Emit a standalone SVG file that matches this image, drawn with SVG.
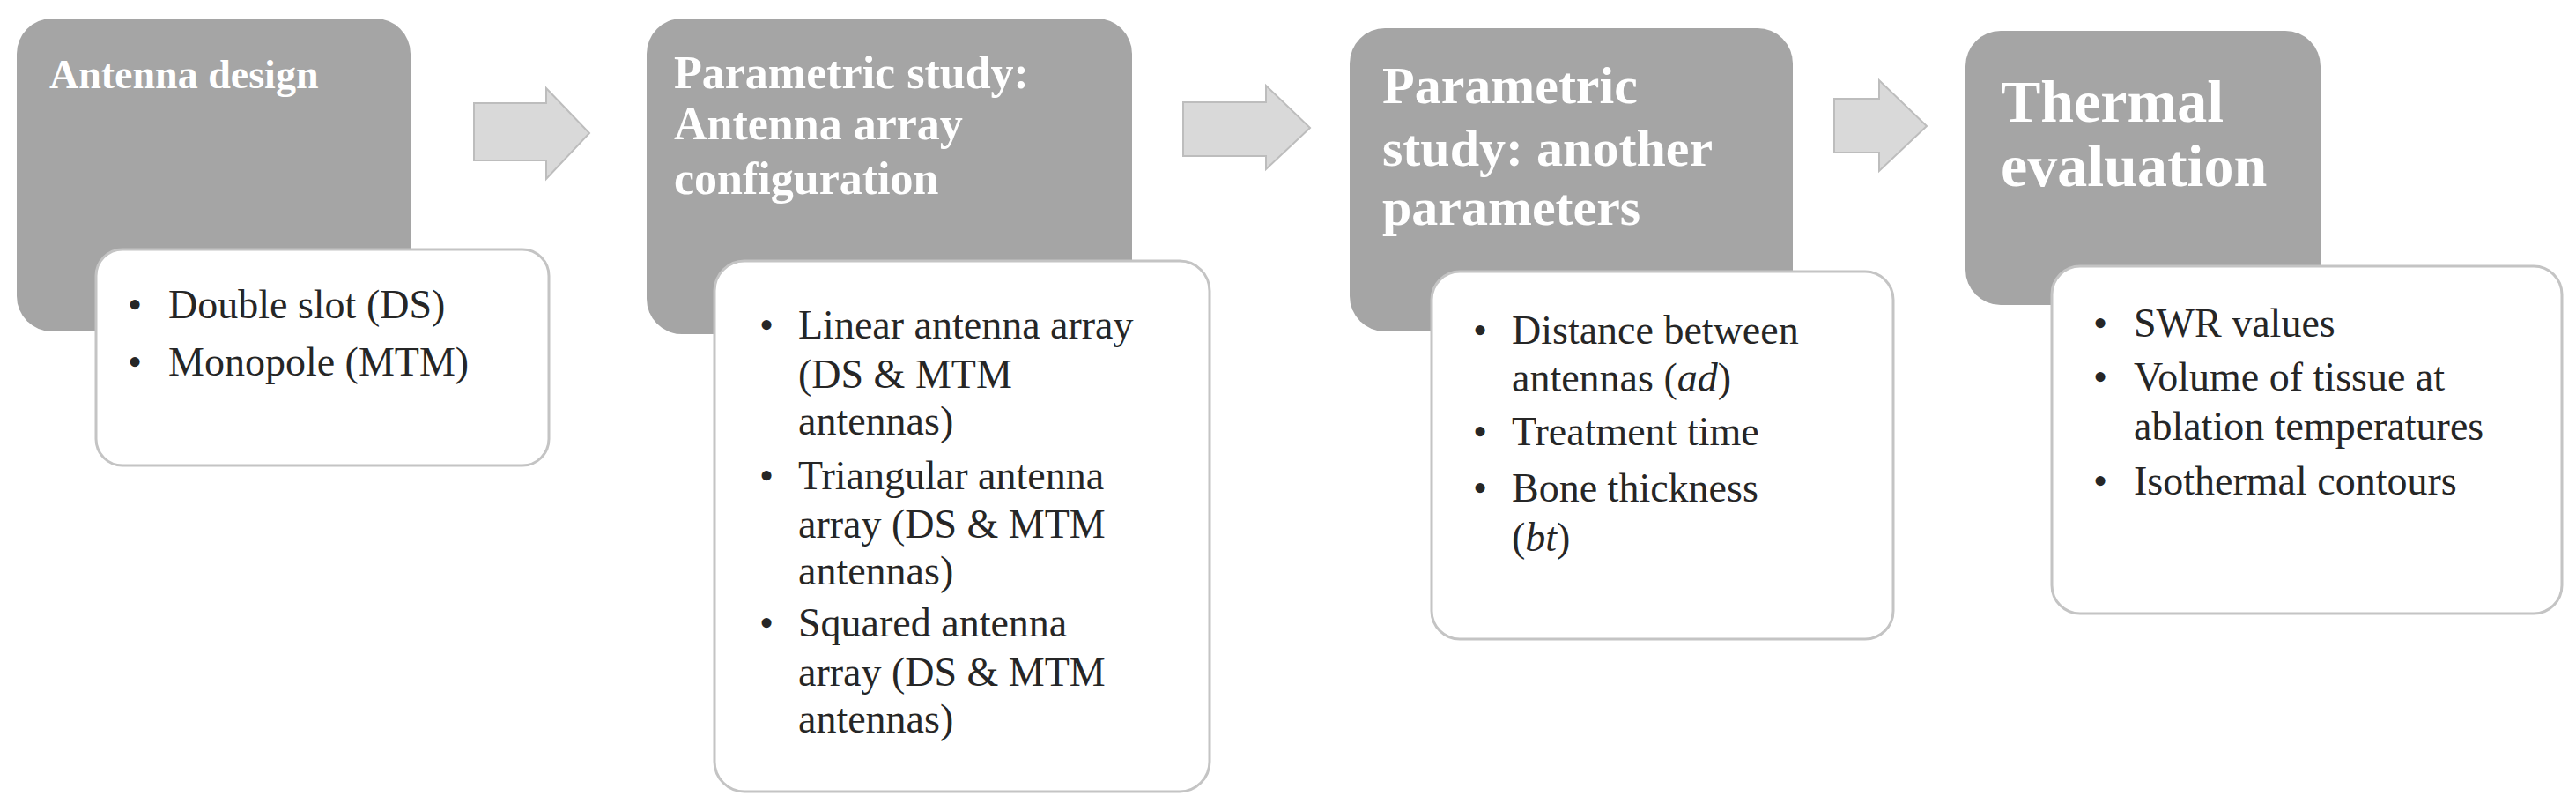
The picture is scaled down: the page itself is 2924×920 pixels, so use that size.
<svg xmlns="http://www.w3.org/2000/svg" width="2924" height="920" viewBox="0 0 2924 920">
<style>
.g{fill:#a5a5a5}
.w{fill:#fff;stroke:#c4c4c4;stroke-width:3}
.a{fill:#d9d9d9;stroke:#bdbdbd;stroke-width:2}
.t{font-family:"Liberation Serif",serif;font-weight:bold;fill:#fff}
.b{font-family:"Liberation Serif",serif;font-size:46px;fill:#262626}
</style>
<rect width="2924" height="920" fill="#fff"/>
<g id="connectors">
<polygon class="a" points="538,117 620,117 620,100 669,151 620,203 620,182 538,182"/>
<polygon class="a" points="1343,116 1437,116 1437,97 1487,145 1437,192 1437,177 1343,177"/>
<polygon class="a" points="2082,112 2133,112 2133,91 2187,143 2133,194 2133,173 2082,173"/>
</g>
<g id="n1">
<rect class="g" x="19" y="21" width="447" height="355" rx="40"/>
<text class="t" x="56" y="100" font-size="46">Antenna design</text>
<rect class="w" x="109" y="283" width="514" height="245" rx="30"/>
<text class="b"><tspan x="145" y="361">•</tspan><tspan x="191" y="361">Double slot (DS)</tspan><tspan x="145" y="426">•</tspan><tspan x="191" y="426">Monopole (MTM)</tspan></text>
</g>
<g id="n2">
<rect class="g" x="734" y="21" width="551" height="358" rx="40"/>
<text class="t" font-size="52"><tspan x="765" y="100">Parametric study:</tspan><tspan x="765" y="158">Antenna array</tspan><tspan x="765" y="220">configuration</tspan></text>
<rect class="w" x="811" y="296" width="562" height="602" rx="34"/>
<text class="b"><tspan x="862" y="384">•</tspan><tspan x="906" y="384">Linear antenna array</tspan><tspan x="906" y="440">(DS &amp; MTM</tspan><tspan x="906" y="493">antennas)</tspan><tspan x="862" y="555">•</tspan><tspan x="906" y="555">Triangular antenna</tspan><tspan x="906" y="610">array (DS &amp; MTM</tspan><tspan x="906" y="663">antennas)</tspan><tspan x="862" y="722">•</tspan><tspan x="906" y="722">Squared antenna</tspan><tspan x="906" y="778">array (DS &amp; MTM</tspan><tspan x="906" y="831">antennas)</tspan></text>
</g>
<g id="n3">
<rect class="g" x="1532" y="32" width="503" height="344" rx="40"/>
<text class="t" font-size="60"><tspan x="1569" y="117">Parametric</tspan><tspan x="1569" y="188">study: another</tspan><tspan x="1569" y="255">parameters</tspan></text>
<rect class="w" x="1625" y="308" width="524" height="417" rx="32"/>
<text class="b"><tspan x="1672" y="390">•</tspan><tspan x="1716" y="390">Distance between</tspan><tspan x="1716" y="444">antennas (<tspan font-style="italic">ad</tspan>)</tspan><tspan x="1672" y="505">•</tspan><tspan x="1716" y="505">Treatment time</tspan><tspan x="1672" y="569">•</tspan><tspan x="1716" y="569">Bone thickness</tspan><tspan x="1716" y="625">(<tspan font-style="italic">bt</tspan>)</tspan></text>
</g>
<g id="n4">
<rect class="g" x="2231" y="35" width="403" height="311" rx="40"/>
<text class="t" font-size="68"><tspan x="2271" y="138">Thermal</tspan><tspan x="2271" y="211">evaluation</tspan></text>
<rect class="w" x="2329" y="302" width="579" height="394" rx="32"/>
<text class="b"><tspan x="2376" y="382">•</tspan><tspan x="2422" y="382">SWR values</tspan><tspan x="2376" y="443">•</tspan><tspan x="2422" y="443">Volume of tissue at</tspan><tspan x="2422" y="499">ablation temperatures</tspan><tspan x="2376" y="561">•</tspan><tspan x="2422" y="561">Isothermal contours</tspan></text>
</g>
</svg>
